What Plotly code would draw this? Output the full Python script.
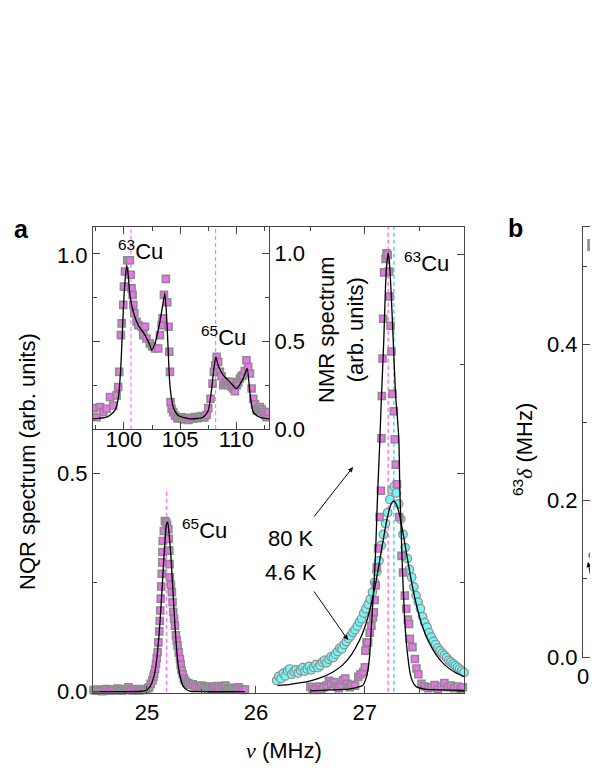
import plotly.graph_objects as go

W, H = 598, 774
OFF = 8  # the page body adds an 8 px margin; positions below are in window pixels

# ---------------- data ----------------
# 65Cu NQR line (80 K), magenta squares
cu65_x = [24.51, 24.53, 24.55, 24.57, 24.59, 24.61, 24.63, 24.65, 24.67, 24.69, 24.71, 24.73, 24.75,
          24.77, 24.79, 24.81, 24.83, 24.85, 24.87, 24.89, 24.91, 24.93, 24.95, 24.97, 24.99, 25.01,
          25.02, 25.035, 25.05, 25.06, 25.067, 25.075, 25.083, 25.09, 25.098, 25.105, 25.113, 25.118,
          25.122, 25.127, 25.131, 25.136, 25.140, 25.142, 25.145, 25.155, 25.165, 25.175, 25.185,
          25.196, 25.200, 25.205, 25.208, 25.211, 25.220, 25.229, 25.235, 25.241, 25.249, 25.257,
          25.266, 25.273, 25.281, 25.292, 25.303, 25.310, 25.318, 25.328, 25.339, 25.350, 25.364,
          25.38, 25.40, 25.42, 25.44, 25.46, 25.48, 25.50, 25.52, 25.54, 25.56, 25.58, 25.60, 25.62,
          25.64, 25.66, 25.68, 25.70, 25.72, 25.74, 25.76, 25.78, 25.80, 25.82, 25.84, 25.86, 25.88, 25.90]
cu65_y = [0.004, 0.002, 0.005, 0.003, 0.001, 0.004, 0.006, 0.003, 0.002, 0.005, 0.004, 0.007, 0.003,
          0.002, 0.004, 0.006, 0.010, 0.005, 0.003, 0.004, 0.006, 0.003, 0.005, 0.004, 0.006, 0.008,
          0.010, 0.018, 0.026, 0.034, 0.041, 0.052, 0.064, 0.077, 0.091, 0.113, 0.138, 0.162,
          0.186, 0.213, 0.241, 0.270, 0.296, 0.320, 0.345, 0.368, 0.391, 0.388, 0.382,
          0.372, 0.350, 0.323, 0.292, 0.262, 0.245, 0.228, 0.205, 0.183, 0.167, 0.151,
          0.129, 0.117, 0.106, 0.090, 0.075, 0.062, 0.049, 0.040, 0.030, 0.025, 0.021,
          0.019, 0.016, 0.017, 0.013, 0.012, 0.010, 0.014, 0.009, 0.011, 0.008, 0.012, 0.007, 0.010,
          0.013, 0.009, 0.006, 0.011, 0.014, 0.008, 0.006, 0.009, 0.007, 0.005, 0.010, 0.006, 0.004, 0.005]
cu65_fit_x = [24.50, 24.80, 24.95, 25.00, 25.03, 25.06, 25.08, 25.10, 25.12, 25.14, 25.16, 25.17, 25.18,
              25.19, 25.20, 25.22, 25.24, 25.26, 25.28, 25.30, 25.33, 25.36, 25.40, 25.50, 25.90]
cu65_fit_y = [0.000, 0.000, 0.001, 0.004, 0.012, 0.031, 0.055, 0.098, 0.160, 0.240, 0.325, 0.360, 0.385,
              0.388, 0.370, 0.310, 0.225, 0.140, 0.076, 0.040, 0.014, 0.005, 0.001, 0.000, 0.000]

# 63Cu line, 80 K (magenta squares)
k80_x = [26.50, 26.52, 26.54, 26.56, 26.58, 26.60, 26.62, 26.65, 26.67, 26.69, 26.72, 26.74, 26.76,
         26.78, 26.80, 26.82, 26.84, 26.86, 26.88, 26.91, 26.94, 26.96, 26.985, 27.00, 27.005, 27.016,
         27.03, 27.045, 27.06, 27.075, 27.083, 27.09, 27.10, 27.11, 27.122, 27.135, 27.147, 27.152,
         27.156, 27.162, 27.168, 27.177, 27.19, 27.199, 27.21, 27.223, 27.228, 27.236, 27.245, 27.254,
         27.266, 27.275, 27.284, 27.295, 27.315, 27.337, 27.35, 27.367, 27.38, 27.395, 27.406, 27.413,
         27.437, 27.459, 27.474, 27.49, 27.52, 27.55, 27.58, 27.61, 27.64, 27.67, 27.70, 27.73, 27.76,
         27.79, 27.82, 27.85, 27.88, 27.90]
k80_y = [0.011, 0.006, 0.004, 0.008, 0.012, 0.005, 0.010, 0.014, 0.025, 0.018, 0.022, 0.012, 0.008,
         0.015, 0.026, 0.030, 0.018, 0.010, 0.016, 0.014, 0.034, 0.040, 0.045, 0.056, 0.094, 0.113,
         0.113, 0.135, 0.151, 0.170, 0.182, 0.210, 0.243, 0.285, 0.328, 0.400, 0.460, 0.580,
         0.677, 0.763, 0.854, 0.960, 0.991, 1.004, 1.000, 0.962, 0.905, 0.838, 0.779, 0.682,
         0.642, 0.578, 0.520, 0.475, 0.400, 0.311, 0.273, 0.220, 0.190, 0.165, 0.155, 0.121,
         0.102, 0.075, 0.053, 0.040, 0.018, 0.012, 0.008, 0.010, 0.015, 0.006, 0.012, 0.020, 0.010,
         0.014, 0.008, 0.012, 0.006, 0.010]
k80_fit_x = [26.50, 26.70, 26.85, 26.93, 26.98, 27.01, 27.03, 27.045, 27.06, 27.075, 27.09, 27.10, 27.113,
             27.125, 27.138, 27.153, 27.174, 27.19, 27.205, 27.214, 27.225, 27.24, 27.26, 27.282, 27.298,
             27.312, 27.321, 27.333, 27.346, 27.357, 27.367, 27.38, 27.397, 27.41, 27.428, 27.45, 27.474,
             27.55, 27.70, 27.91]
k80_fit_y = [0.002, 0.004, 0.006, 0.010, 0.014, 0.030, 0.053, 0.085, 0.150, 0.210, 0.273, 0.330, 0.425,
             0.500, 0.578, 0.680, 0.806, 0.930, 0.990, 1.004, 0.985, 0.920, 0.806, 0.680, 0.630,
             0.578, 0.463, 0.370, 0.273, 0.210, 0.159, 0.115, 0.075, 0.050, 0.030, 0.018, 0.011,
             0.006, 0.004, 0.003]

# 4.6 K (cyan circles)
k46_x = [26.19, 26.21, 26.23, 26.25, 26.27, 26.29, 26.31, 26.33, 26.35, 26.37, 26.39, 26.41, 26.43,
         26.45, 26.47, 26.49, 26.51, 26.53, 26.55, 26.57, 26.59, 26.61, 26.63, 26.65, 26.67, 26.69,
         26.71, 26.73, 26.75, 26.77, 26.79, 26.81, 26.83, 26.85, 26.87, 26.89, 26.91, 26.93, 26.95,
         26.97, 26.99, 27.01, 27.03, 27.05, 27.07, 27.09, 27.11, 27.13, 27.15, 27.17, 27.19, 27.21,
         27.23, 27.25, 27.27, 27.29, 27.31, 27.33, 27.35, 27.37, 27.39, 27.41, 27.43, 27.45, 27.47,
         27.49, 27.51, 27.53, 27.55, 27.57, 27.59, 27.61, 27.63, 27.65, 27.67, 27.69, 27.71, 27.73,
         27.75, 27.77, 27.79, 27.81, 27.83, 27.85, 27.87, 27.89, 27.91]
k46_y = [0.026, 0.035, 0.030, 0.042, 0.036, 0.048, 0.052, 0.040, 0.046, 0.050, 0.043, 0.049, 0.055,
         0.047, 0.052, 0.058, 0.050, 0.056, 0.062, 0.055, 0.060, 0.068, 0.072, 0.066, 0.074, 0.080,
         0.078, 0.086, 0.092, 0.100, 0.098, 0.108, 0.115, 0.122, 0.128, 0.136, 0.142, 0.150, 0.160,
         0.167, 0.180, 0.190, 0.200, 0.212, 0.228, 0.250, 0.275, 0.300, 0.335, 0.360, 0.385, 0.410,
         0.440, 0.462, 0.470, 0.455, 0.430, 0.395, 0.360, 0.330, 0.305, 0.280, 0.262, 0.240, 0.220,
         0.205, 0.190, 0.172, 0.158, 0.148, 0.135, 0.125, 0.115, 0.108, 0.100, 0.094, 0.088, 0.083,
         0.078, 0.072, 0.068, 0.064, 0.060, 0.056, 0.052, 0.048, 0.044]
k46_fit_x = [26.20, 26.30, 26.40, 26.50, 26.60, 26.70, 26.80, 26.88, 26.95, 27.00, 27.05, 27.10, 27.15,
             27.20, 27.235, 27.265, 27.295, 27.33, 27.38, 27.43, 27.48, 27.53, 27.58, 27.65, 27.73,
             27.83, 27.91]
k46_fit_y = [0.014, 0.016, 0.020, 0.025, 0.033, 0.044, 0.062, 0.086, 0.117, 0.148, 0.192, 0.249, 0.320,
             0.391, 0.426, 0.437, 0.426, 0.391, 0.320, 0.249, 0.192, 0.148, 0.117, 0.086, 0.062,
             0.044, 0.035]

# dashed line positions (MHz) and heights
main_dash_x = [25.18, 27.214, 27.266]
main_dash_top = [0.465, 1.064, 1.064]
main_dash_col = ["#FF77FF", "#FF77FF", "#33E6E6"]

# inset: NMR spectrum
nmr_x = [97.33, 97.57, 97.87, 98.16, 98.46, 98.76, 99.05, 99.35, 99.49, 99.58, 99.73, 99.80, 99.94,
         100.0, 100.09, 100.3, 100.53, 100.6, 100.68, 100.77, 100.83, 100.92, 101.13, 101.27, 101.57,
         101.72, 101.87, 102.0, 102.3, 102.5, 102.76, 103.05, 103.2, 103.35, 103.44, 103.56, 103.73,
         103.85, 103.97, 104.03, 104.09, 104.15, 104.24, 104.38, 104.55, 104.75, 104.95, 105.15,
         105.35, 105.55, 105.75, 105.95, 106.15, 106.35, 106.55, 106.75, 106.95, 107.15, 107.35,
         107.5, 107.7, 107.88, 108.0, 108.12, 108.24, 108.38, 108.53, 108.68, 108.83, 108.98, 109.13,
         109.28, 109.42, 109.57, 109.72, 109.87, 110.02, 110.16, 110.31, 110.46, 110.6, 110.75, 110.9,
         111.05, 111.2, 111.35, 111.5, 111.65, 111.8, 111.95, 112.1, 112.25, 112.38, 112.53, 112.68, 112.85]
nmr_y = [0.119, 0.067, 0.125, 0.096, 0.115, 0.182, 0.134, 0.191, 0.239, 0.325, 0.534, 0.601, 0.706,
         0.810, 0.896, 0.960, 0.960, 0.877, 0.800, 0.763, 0.706, 0.658, 0.610, 0.591, 0.582,
         0.534, 0.582, 0.515, 0.487, 0.470, 0.458, 0.458, 0.534, 0.591, 0.630, 0.763, 0.854,
         0.721, 0.582, 0.439, 0.325, 0.153, 0.115, 0.096, 0.075, 0.062, 0.058, 0.066,
         0.055, 0.060, 0.052, 0.064, 0.058, 0.068, 0.062, 0.070, 0.074, 0.066, 0.080,
         0.119, 0.172, 0.258, 0.325, 0.363, 0.410, 0.382, 0.325, 0.300, 0.249, 0.262, 0.268,
         0.250, 0.268, 0.240, 0.230, 0.215, 0.249, 0.265, 0.287, 0.300, 0.306, 0.330, 0.391,
         0.353, 0.316, 0.230, 0.172, 0.140, 0.106, 0.118, 0.125, 0.110, 0.096, 0.080, 0.067, 0.096]
nmr_fit_x = [97.27, 98.46, 99.2, 99.49, 99.7, 99.85, 100.03, 100.24, 100.38, 100.53, 100.83, 101.27,
             101.87, 102.31, 102.46, 102.76, 103.2, 103.5, 103.64, 103.79, 103.94, 104.09, 104.38,
             104.83, 105.87, 107.05, 107.5, 107.8, 108.0, 108.18, 108.38, 108.83, 109.42, 110.02,
             110.6, 110.96, 111.2, 111.5, 112.09, 112.9]
nmr_fit_y = [0.058, 0.067, 0.106, 0.172, 0.325, 0.534, 0.780, 0.934, 0.877, 0.763, 0.667, 0.591,
             0.534, 0.477, 0.449, 0.487, 0.610, 0.725, 0.773, 0.649, 0.439, 0.249, 0.125,
             0.077, 0.058, 0.067, 0.106, 0.230, 0.344, 0.410, 0.363, 0.306, 0.268, 0.230,
             0.287, 0.344, 0.210, 0.096, 0.067, 0.058]
inset_dash_x = [100.62, 108.15]

# panel b (only its left edge is in view)
b_sq_x = [7.2, 9.8]
b_sq_y = [0.527, 0.514]
b_ci_x = [9.6, 9.1]
b_ci_y = [0.487, 0.497]
b_red_x = [6.1, 12.0]
b_red_y = [0.130, 0.133]

# ---------------- styling ----------------
FONT = "Arial, Liberation Sans, sans-serif"
SERIF = "Liberation Serif, Times New Roman, serif"
MAG = "#F070F0"
CYA = "#78F5F5"
GRAY = "#8C8C8C"
AX = "#444444"
TF = 22

def px(x):
    return (x - OFF) / W

def py(y):
    return 1 - (y - OFF) / H

fig = go.Figure()

for xv, top, col in zip(main_dash_x, main_dash_top, main_dash_col):
    fig.add_trace(go.Scatter(x=[xv, xv], y=[0, top], mode="lines",
                             line=dict(color=col, width=1.5, dash="4px,3px"),
                             xaxis="x", yaxis="y", showlegend=False, hoverinfo="skip"))
fig.add_trace(go.Scatter(x=cu65_x, y=cu65_y, mode="markers", cliponaxis=False,
                         marker=dict(symbol="square", size=7, color=MAG, line=dict(color=GRAY, width=1.6)),
                         xaxis="x", yaxis="y", showlegend=False))
fig.add_trace(go.Scatter(x=k46_x, y=k46_y, mode="markers", cliponaxis=False,
                         marker=dict(symbol="circle", size=8.5, color=CYA, line=dict(color=GRAY, width=1.2)),
                         xaxis="x", yaxis="y", showlegend=False))
fig.add_trace(go.Scatter(x=k80_x, y=k80_y, mode="markers", cliponaxis=False,
                         marker=dict(symbol="square", size=7, color=MAG, line=dict(color=GRAY, width=1.6)),
                         xaxis="x", yaxis="y", showlegend=False))
for fx, fy in [(cu65_fit_x, cu65_fit_y), (k80_fit_x, k80_fit_y), (k46_fit_x, k46_fit_y)]:
    fig.add_trace(go.Scatter(x=fx, y=fy, mode="lines", line=dict(color="black", width=1.3, shape="spline", smoothing=0.6),
                             xaxis="x", yaxis="y", showlegend=False))

for xv in inset_dash_x:
    fig.add_trace(go.Scatter(x=[xv, xv], y=[0, 1.149], mode="lines",
                             line=dict(color="#FF77FF", width=1.2, dash="4px,3px"),
                             xaxis="x2", yaxis="y2", showlegend=False, hoverinfo="skip"))
fig.add_trace(go.Scatter(x=nmr_x, y=nmr_y, mode="markers",
                         marker=dict(symbol="square", size=7, color=MAG, line=dict(color=GRAY, width=1.6)),
                         xaxis="x2", yaxis="y2", showlegend=False))
fig.add_trace(go.Scatter(x=nmr_fit_x, y=nmr_fit_y, mode="lines",
                         line=dict(color="black", width=1.3, shape="spline", smoothing=0.6),
                         xaxis="x2", yaxis="y2", showlegend=False))

fig.add_trace(go.Scatter(x=b_red_x, y=b_red_y, mode="lines+markers",
                         marker=dict(symbol="circle", size=[6, 0], color="#DD0000", line=dict(color="#AA0000", width=1)),
                         line=dict(color="#DD0000", width=1.2),
                         xaxis="x3", yaxis="y3", showlegend=False))
fig.add_trace(go.Scatter(x=b_sq_x, y=b_sq_y, mode="markers", cliponaxis=False,
                         marker=dict(symbol="square", size=10, color=MAG, line=dict(color=GRAY, width=2)),
                         xaxis="x3", yaxis="y3", showlegend=False))
fig.add_trace(go.Scatter(x=b_ci_x, y=b_ci_y, mode="markers", cliponaxis=False,
                         marker=dict(symbol="circle", size=10, color=CYA, line=dict(color=GRAY, width=2)),
                         xaxis="x3", yaxis="y3", showlegend=False))

axis_common = dict(showline=True, linecolor=AX, linewidth=1, ticks="inside", tickcolor=AX,
                   ticklen=7, tickwidth=1, showgrid=False, zeroline=False, automargin=False,
                   tickfont=dict(family=FONT, size=TF, color="black"))

fig.update_layout(
    width=W, height=H, margin=dict(l=0, r=0, t=0, b=0, pad=0, autoexpand=False),
    paper_bgcolor="white", plot_bgcolor="white",
    font=dict(family=FONT, size=TF, color="black"),
    xaxis=dict(domain=[px(93), px(464)], range=[24.505, 27.91], anchor="y",
               tickvals=[25, 26, 27], mirror="allticks",
               minor=dict(ticks="inside", ticklen=4, dtick=0.5, tick0=24.5, tickcolor=AX),
               **axis_common),
    yaxis=dict(domain=[py(693), py(227)], range=[-0.003, 1.064], anchor="x",
               tickvals=[0, 0.5, 1.0], ticktext=["0.0", "0.5", "1.0"], mirror="allticks",
               minor=dict(ticks="inside", ticklen=4, dtick=0.25, tick0=0, tickcolor=AX),
               **axis_common),
    xaxis2=dict(domain=[px(93), px(269)], range=[97.25, 112.9], anchor="y2",
                tickvals=[100, 105, 110], mirror="allticks", ticklabelstandoff=-9,
                minor=dict(ticks="inside", ticklen=4, dtick=2.5, tick0=100, tickcolor=AX),
                **axis_common),
    yaxis2=dict(domain=[py(429), py(227)], range=[0, 1.149], anchor="x2", side="right",
                tickvals=[0, 0.5, 1.0], ticktext=["0.0", "0.5", "1.0"], mirror="allticks",
                minor=dict(ticks="inside", ticklen=4, dtick=0.25, tick0=0, tickcolor=AX),
                **axis_common),
    xaxis3=dict(domain=[px(583), px(598)], range=[0, 10.5], anchor="y3",
                tickvals=[0], ticktext=["0"], mirror=True, **axis_common),
    yaxis3=dict(domain=[py(657), py(227)], range=[0, 0.55], anchor="x3",
                tickvals=[0, 0.2, 0.4], ticktext=["0.0", "0.2", "0.4"],
                minor=dict(ticks="inside", ticklen=4, dtick=0.1, tick0=0, tickcolor=AX),
                **axis_common),
)

def ann(x, y, text, size=TF, angle=0, xanchor="center", **kw):
    fig.add_annotation(x=px(x), y=py(y), xref="paper", yref="paper", text=text, showarrow=False,
                       xanchor=xanchor, yanchor="middle",
                       textangle=angle, font=dict(family=FONT, size=size, color="black"), **kw)

ann(21, 229, "<b>a</b>", size=25)
ann(515, 228, "<b>b</b>", size=25)
ann(27, 462, "NQR spectrum (arb. units)", angle=-90)
ann(284, 750, "<i><span style='font-family:%s'>ν</span></i> (MHz)" % SERIF)
ann(341, 330, "NMR spectrum<br>(arb. units)", angle=-90)
ann(140, 250, "<sup>63</sup>Cu")
ann(223, 336, "<sup>65</sup>Cu")
ann(204, 529, "<sup>65</sup>Cu")
ann(426, 262, "<sup>63</sup>Cu")
ann(291, 538, "80 K")
ann(291, 572, "4.6 K")
ann(523, 450, "<sup>63</sup><i><span style='font-family:%s'>δ</span></i> (MHz)" % SERIF, angle=-90)
ann(593, 567, "<b>c</b>", xanchor="left")

def arrow(hx, hy, tx, ty):
    fig.add_annotation(x=px(hx), y=py(hy), xref="paper", yref="paper", ax=tx - hx, ay=ty - hy,
                       text="", showarrow=True, arrowhead=2, arrowsize=1, arrowwidth=1, arrowcolor="black")

arrow(353, 467, 313, 518)
arrow(348, 640, 313, 590)
arrow(588, 562, 596, 603)

fig.write_html("out.html")
